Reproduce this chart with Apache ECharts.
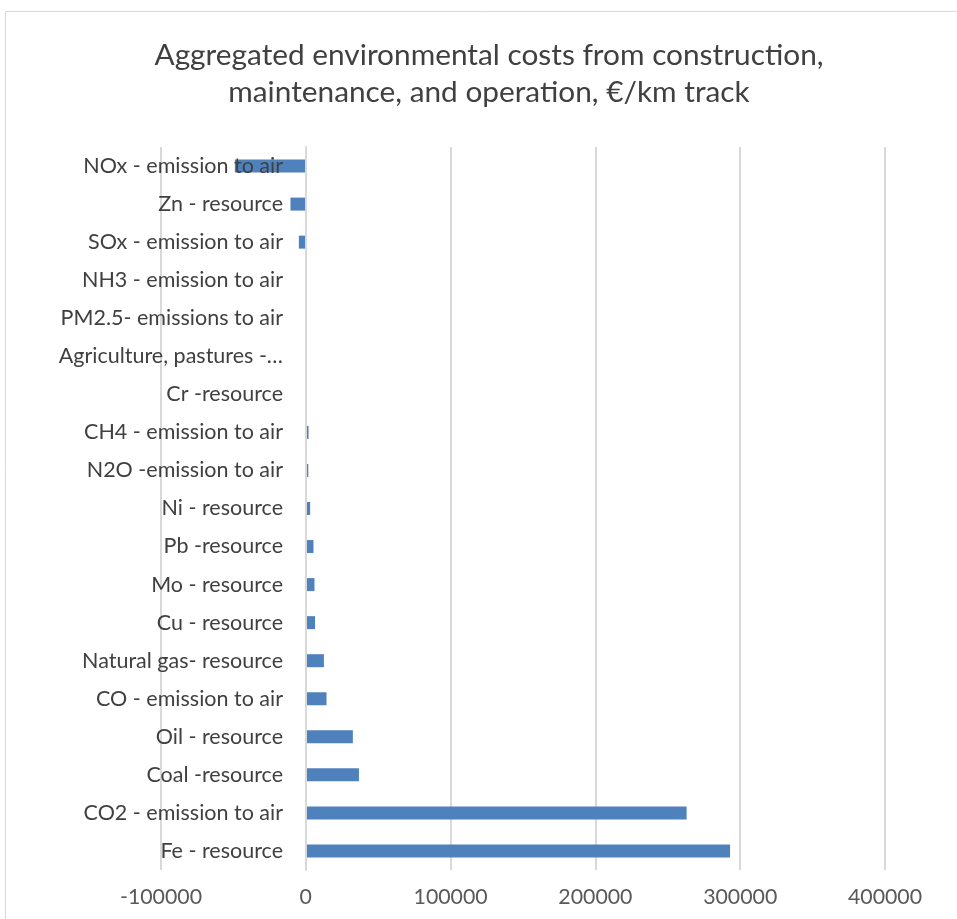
<!DOCTYPE html>
<html>
<head>
<meta charset="utf-8">
<script src="https://cdn.jsdelivr.net/npm/echarts@6/dist/echarts.min.js"></script>
<style>
html,body{margin:0;padding:0;background:#fff;}
#c{width:957px;height:919px;}
</style>
</head>
<body>
<div id="c"></div>
<script>
const categories = [
  "Fe - resource", "CO2 - emission to air", "Coal -resource", "Oil - resource",
  "CO - emission to air", "Natural gas- resource", "Cu - resource", "Mo - resource",
  "Pb -resource", "Ni - resource", "N2O -emission to air", "CH4 - emission to air",
  "Cr -resource", "Agriculture, pastures -…", "PM2.5- emissions to air",
  "NH3 - emission to air", "SOx - emission to air", "Zn - resource", "NOx - emission to air"
];
const values = [
  293000, 263000, 36700, 32500,
  14300, 12500, 6400, 6000,
  5300, 3000, 1700, 1900,
  200, -200, -300,
  -400, -4800, -10600, -49000
];
const xTicks = { min: -100000, max: 400000, interval: 100000 };
const titleText = "Aggregated environmental costs from construction,\nmaintenance, and operation, €/km track";

const chart = echarts.init(document.getElementById('c'), null, {renderer: 'canvas'});
const font = 'Lato, "Open Sans", sans-serif';
chart.setOption({
  animation: false,
  backgroundColor: '#ffffff',
  title: {
    text: titleText,
    left: 484, top: 32,
    textAlign: 'center',
    textStyle: { fontFamily: font, fontSize: 29.8, fontWeight: 'normal', color: '#404040', lineHeight: 37 }
  },
  graphic: [{
    type: 'rect', silent: true, z: -10,
    shape: { x: 5.5, y: 11.5, width: 1100, height: 1100 },
    style: { fill: 'none', stroke: '#d9d9d9', lineWidth: 1 }
  }],
  grid: { left: 161, right: 72, top: 147, bottom: 49, containLabel: false, outerBoundsMode: 'none' },
  xAxis: {
    type: 'value',
    min: xTicks.min, max: xTicks.max, interval: xTicks.interval,
    axisLine: { show: false },
    axisTick: { show: false },
    splitLine: { show: true, lineStyle: { color: '#d9d9d9', width: 2 } },
    axisLabel: { fontFamily: font, fontSize: 21.3, color: '#595959', margin: 17,
      formatter: function (v) { return String(v); } }
  },
  yAxis: {
    type: 'category',
    data: categories,
    offset: -145,
    z: 5,
    axisLine: { show: true, onZero: false, lineStyle: { color: '#d9d9d9', width: 2 } },
    axisTick: { show: false },
    axisLabel: { fontFamily: font, fontSize: 21.5, color: '#404040', margin: 23 }
  },
  series: [{
    type: 'bar',
    data: values,
    barWidth: 13,
    z: 2,
    itemStyle: { color: '#4f81bd' }
  }]
});
</script>
</body>
</html>
